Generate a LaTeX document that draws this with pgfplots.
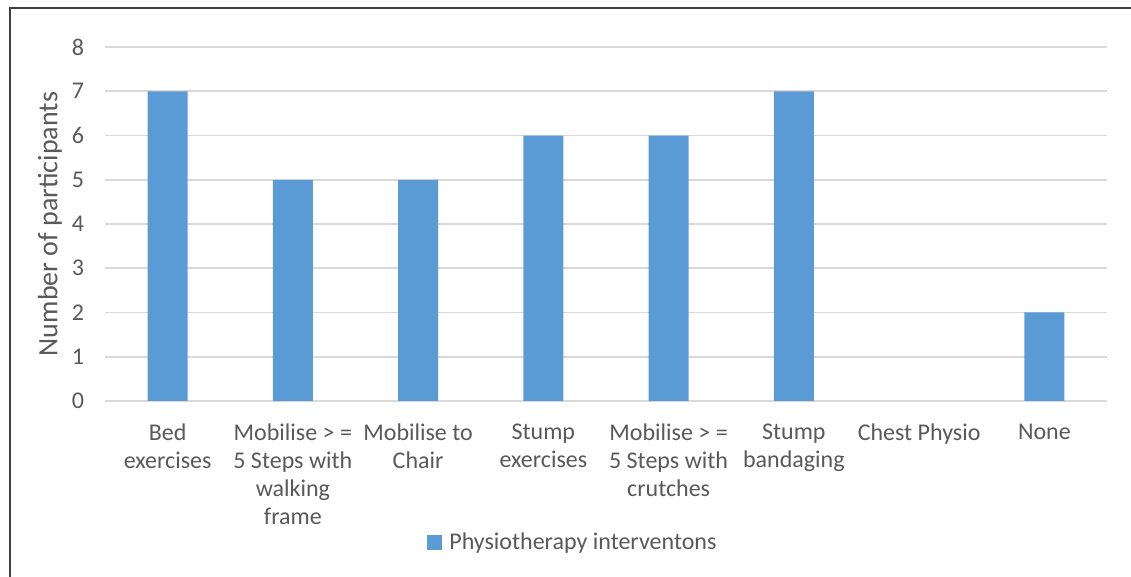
\documentclass[border=0pt]{standalone}
\usepackage{fontspec}
\setmainfont{Carlito}
\usepackage{pgfplots}
\pgfplotsset{compat=1.18}
\definecolor{barblue}{HTML}{5B9BD5}
\definecolor{txtgray}{HTML}{595959}
\definecolor{gridgray}{HTML}{D9D9D9}
\begin{document}
\begin{tikzpicture}
\path[use as bounding box] (0,0) rectangle (565.5pt,288.5pt);
% chart frame (left and top edges only, as in the source)
\draw[black!75, line width=1pt] (5pt,0) -- (5pt,284.5pt) -- (565.5pt,284.5pt);
\begin{axis}[
  at={(52.5pt,88pt)}, anchor=south west,
  scale only axis, width=501pt, height=177pt,
  ybar, bar width=20pt,
  xmin=-0.5, xmax=7.5, ymin=0, ymax=8,
  ytick={0,...,8},
  xtick={0,...,7},
  xticklabels={{Bed\\exercises},{Mobilise > =\\5 Steps with\\walking\\frame},{Mobilise to\\Chair},{Stump\\exercises},{Mobilise > =\\5 Steps with\\crutches},{Stump\\bandaging},{Chest Physio},{None}},
  major tick length=0pt,
  axis x line*=bottom, axis y line*=left,
  y axis line style={draw=none},
  x axis line style={gridgray, line width=0.8pt, -},
  ymajorgrids, grid style={gridgray, line width=0.8pt},
  /pgf/number format/assume math mode=true,
  tick label style={font=\fontsize{12}{14}\selectfont, text=txtgray},
  yticklabel style={xshift=-7pt},
  xticklabel style={align=center, yshift=-8pt},
  ylabel={Number of participants},
  every axis y label/.style={at={(axis description cs:-0.055,0.5)}, rotate=90, anchor=center, font=\fontsize{14}{16}\selectfont, text=txtgray},
  legend style={at={(axis description cs:0.468,-0.401)}, anchor=center, draw=none, font=\fontsize{12}{14}\selectfont, text=txtgray},
  legend image code/.code={\fill[barblue] (0pt,-3.75pt) rectangle (7.5pt,3.75pt); \path (9pt,0pt);},
]
% Chest Physio has 0 participants (no bar)
\addplot[fill=barblue, draw=none] coordinates {
  (0,7) (1,5) (2,5) (3,6) (4,6) (5,7) (7,2)
};
\addlegendentry{Physiotherapy interventons}
\end{axis}
\end{tikzpicture}
\end{document}
